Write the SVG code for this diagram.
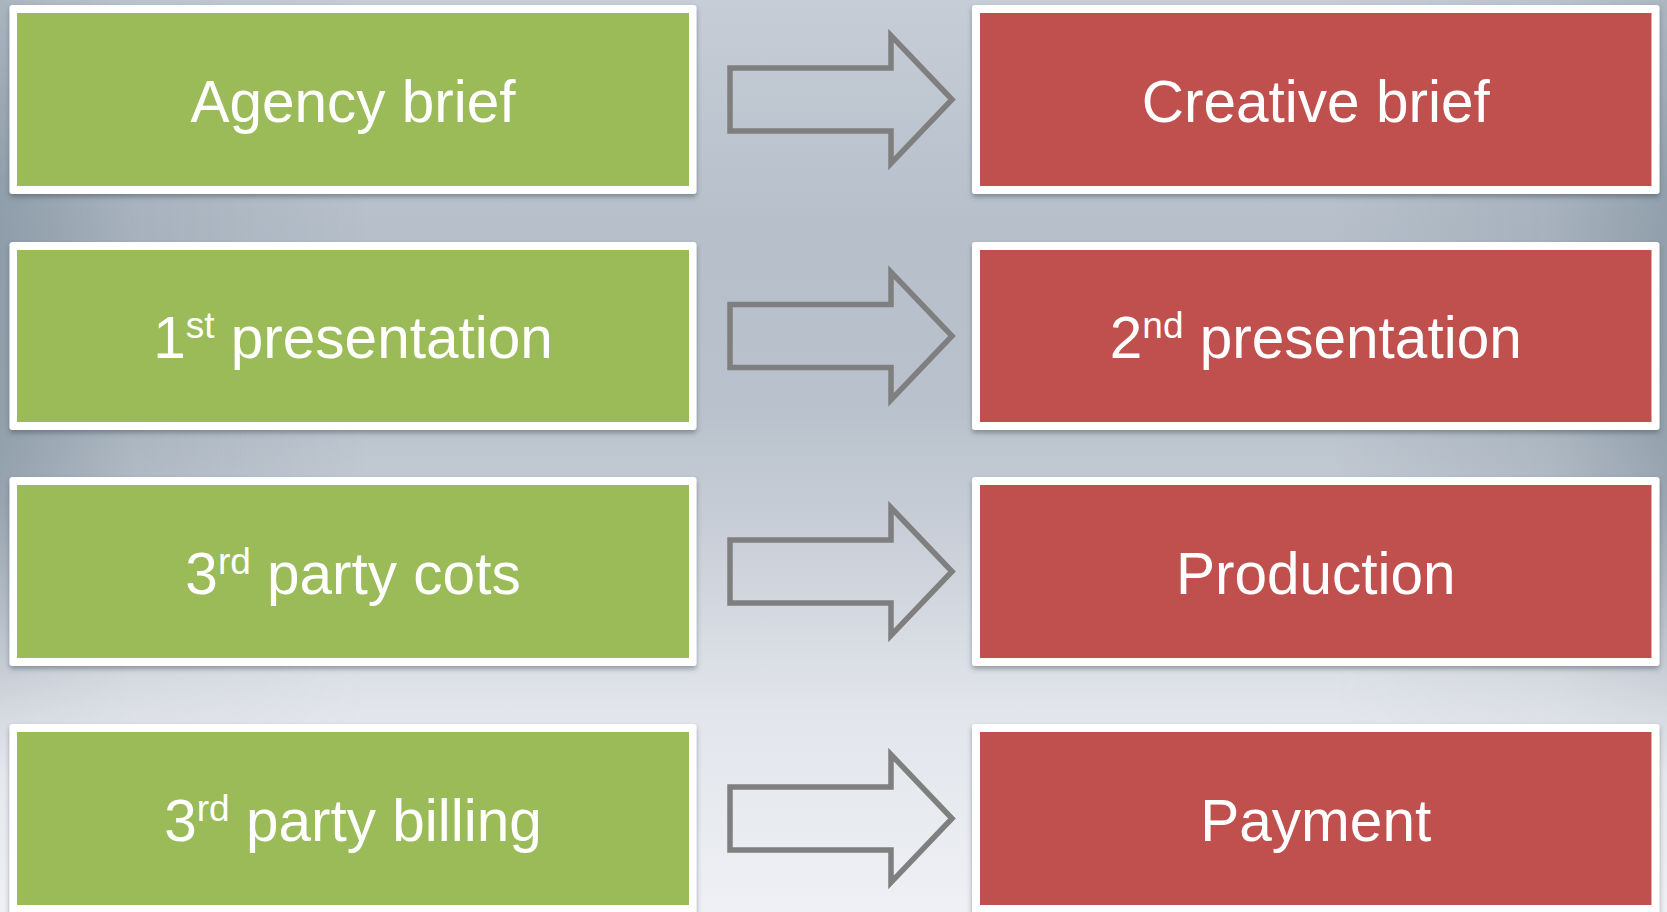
<svg xmlns="http://www.w3.org/2000/svg" width="1667" height="912" viewBox="0 0 1667 912">
  <defs>
    <linearGradient id="bgV" x1="0" y1="0" x2="0" y2="1">
      <stop offset="0" stop-color="#c6cdd7"/>
      <stop offset="0.25" stop-color="#b6bfca"/>
      <stop offset="0.45" stop-color="#b9c2cc"/>
      <stop offset="0.62" stop-color="#cdd2db"/>
      <stop offset="0.78" stop-color="#e2e5eb"/>
      <stop offset="1" stop-color="#eef0f4"/>
    </linearGradient>
    <linearGradient id="bgH" x1="0" y1="0" x2="1" y2="0">
      <stop offset="0" stop-color="#5f7482" stop-opacity="0.45"/>
      <stop offset="0.08" stop-color="#5f7482" stop-opacity="0.18"/>
      <stop offset="0.22" stop-color="#5f7482" stop-opacity="0"/>
      <stop offset="0.8" stop-color="#5f7482" stop-opacity="0"/>
      <stop offset="0.93" stop-color="#5f7482" stop-opacity="0.18"/>
      <stop offset="1" stop-color="#5f7482" stop-opacity="0.42"/>
    </linearGradient>
    <linearGradient id="edgeFade" x1="0" y1="0" x2="0" y2="1">
      <stop offset="0" stop-color="#fff" stop-opacity="0.6"/>
      <stop offset="0.2" stop-color="#fff" stop-opacity="1"/>
      <stop offset="0.55" stop-color="#fff" stop-opacity="1"/>
      <stop offset="0.85" stop-color="#fff" stop-opacity="0"/>
    </linearGradient>
    <mask id="edgeMask">
      <rect width="1667" height="912" fill="url(#edgeFade)"/>
    </mask>
    <filter id="shadow" x="-5%" y="-10%" width="110%" height="125%">
      <feDropShadow dx="0" dy="3" stdDeviation="2.5" flood-color="#3a4650" flood-opacity="0.45"/>
    </filter>
    <!-- block arrow outline, centred on y=0 -->
    <path id="arrowShape" d="M730,-31.5 H891 V-64 L952,0 L891,64 V31.5 H730 Z"/>
  </defs>
  <style>
    .frame { fill: #ffffff; filter: url(#shadow); }
    .green { fill: #9bbb59; }
    .red { fill: #c0504d; }
    .label { font-family: "Liberation Sans", Arial, sans-serif; font-size: 58.5px; fill: #ffffff; text-anchor: middle; }
    .sup { font-size: 37px; }
    .arrow { fill: none; stroke: #7f7f7f; stroke-width: 5.5; stroke-miterlimit: 10; }
  </style>

  <!-- background -->
  <rect width="1667" height="912" fill="url(#bgV)"/>
  <rect width="1667" height="912" fill="url(#bgH)" mask="url(#edgeMask)"/>

  <!-- left column -->
  <g id="agency-brief">
    <rect class="frame" x="9.5" y="5" width="687" height="189" rx="3"/>
    <rect class="green" x="17" y="13" width="672" height="173"/>
    <text class="label" x="353" y="121.5">Agency brief</text>
  </g>
  <g id="first-presentation">
    <rect class="frame" x="9.5" y="242" width="687" height="188" rx="3"/>
    <rect class="green" x="17" y="250" width="672" height="172"/>
    <text class="label" x="353" y="358">1<tspan class="sup" dy="-20">st</tspan><tspan dy="20"> presentation</tspan></text>
  </g>
  <g id="third-party-cots">
    <rect class="frame" x="9.5" y="477" width="687" height="189" rx="3"/>
    <rect class="green" x="17" y="485" width="672" height="173"/>
    <text class="label" x="353" y="593.5">3<tspan class="sup" dy="-20">rd</tspan><tspan dy="20"> party cots</tspan></text>
  </g>
  <g id="third-party-billing">
    <rect class="frame" x="9.5" y="724" width="687" height="192" rx="3"/>
    <rect class="green" x="17" y="732" width="672" height="173"/>
    <text class="label" x="353" y="840.5">3<tspan class="sup" dy="-20">rd</tspan><tspan dy="20"> party billing</tspan></text>
  </g>

  <!-- right column -->
  <g id="creative-brief">
    <rect class="frame" x="972" y="5" width="687.5" height="189" rx="3"/>
    <rect class="red" x="980" y="13" width="671.5" height="173"/>
    <text class="label" x="1315.75" y="121.5">Creative brief</text>
  </g>
  <g id="second-presentation">
    <rect class="frame" x="972" y="242" width="687.5" height="188" rx="3"/>
    <rect class="red" x="980" y="250" width="671.5" height="172"/>
    <text class="label" x="1315.75" y="358">2<tspan class="sup" dy="-20">nd</tspan><tspan dy="20"> presentation</tspan></text>
  </g>
  <g id="production">
    <rect class="frame" x="972" y="477" width="687.5" height="189" rx="3"/>
    <rect class="red" x="980" y="485" width="671.5" height="173"/>
    <text class="label" x="1315.75" y="593.5">Production</text>
  </g>
  <g id="payment">
    <rect class="frame" x="972" y="724" width="687.5" height="192" rx="3"/>
    <rect class="red" x="980" y="732" width="671.5" height="173"/>
    <text class="label" x="1315.75" y="840.5">Payment</text>
  </g>

  <!-- connectors -->
  <g id="connectors">
    <use href="#arrowShape" class="arrow" transform="translate(0,99.5)"/>
    <use href="#arrowShape" class="arrow" transform="translate(0,336)"/>
    <use href="#arrowShape" class="arrow" transform="translate(0,571.5)"/>
    <use href="#arrowShape" class="arrow" transform="translate(0,818.5)"/>
  </g>
</svg>
